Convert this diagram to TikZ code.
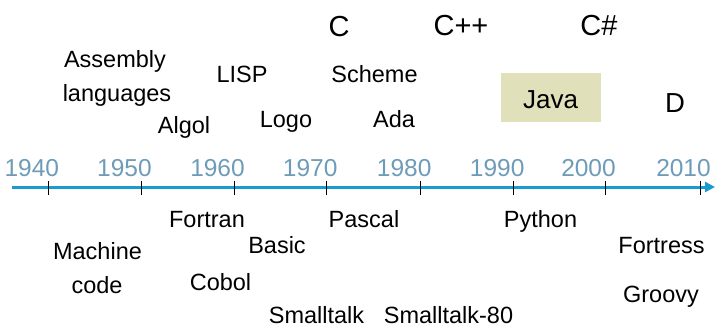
\documentclass[tikz,border=0pt]{standalone}
\usepackage{fontspec}
\setmainfont{Liberation Sans}
\usetikzlibrary{arrows.meta}
\definecolor{axisblue}{HTML}{1A9BD0}
\definecolor{yearblue}{HTML}{6E9CB8}
\definecolor{javafill}{HTML}{E0E1BB}
\tikzset{
  lang/.style={inner sep=0pt, anchor=base, font=\fontsize{23.5}{28}\selectfont},
  big/.style={inner sep=0pt, anchor=base, font=\fontsize{29}{34}\selectfont},
  year/.style={inner sep=0pt, anchor=base, text=yearblue, font=\fontsize{24.5}{29}\selectfont},
  axisline/.style={draw=axisblue, line width=3pt, -{Triangle[length=10pt,width=10pt]}},
  tickmark/.style={draw=black, line width=0.9pt},
  javabox/.style={fill=javafill, draw=none}
}
\begin{document}
\begin{tikzpicture}[x=1pt,y=-1pt]
\useasboundingbox (0,0) rectangle (715,329);
% axis
\coordinate (axL) at (12,187);
\coordinate (axR) at (715,187);
\draw[axisline] (axL) -- (axR);
% ticks and years
\foreach \yr/\tx in {1940/48.3,1950/141,1960/234,1970/326.7,1980/420.7,1990/513.7,2000/605,2010/700}{
  \coordinate (t\yr a) at (\tx,181);
  \coordinate (t\yr b) at (\tx,195);
  \draw[tickmark] (t\yr a) -- (t\yr b);
  \node[year] (y\yr) at (\tx-16.5,176) {\yr};
}
% above the axis
\node[lang] (asm1) at (115,68) {Assembly};
\node[lang] (asm2) at (117,102) {languages};
\node[lang] (algol) at (184,133) {Algol};
\node[lang] (lisp) at (242,83) {LISP};
\node[lang] (logo) at (286,127) {Logo};
\node[big] (c) at (339,37) {C};
\node[lang] (scheme) at (374.5,83) {Scheme};
\node[lang] (ada) at (394,128) {Ada};
\node[big] (cpp) at (461,36) {C++};
\node[big] (cs) at (599,36) {C\#};
\fill[javabox] (501,73) rectangle (601,122);
\node[inner sep=0pt, anchor=base, font=\fontsize{26}{31}\selectfont] (java) at (550.5,108) {Java};
\node[inner sep=0pt, anchor=base, font=\fontsize{27.5}{32}\selectfont] (d) at (675,112) {D};
% below the axis
\node[lang] (fortran) at (207,227) {Fortran};
\node[lang] (mc1) at (97.5,259) {Machine};
\node[lang] (mc2) at (97,293) {code};
\node[lang] (basic) at (277,253) {Basic};
\node[lang] (cobol) at (220.5,290) {Cobol};
\node[lang] (smalltalk) at (316.5,323) {Smalltalk};
\node[lang] (pascal) at (364,227) {Pascal};
\node[lang] (python) at (540.5,227) {Python};
\node[lang] (fortress) at (661.5,253) {Fortress};
\node[lang] (groovy) at (661,302) {Groovy};
\node[lang] (st80) at (448.5,323) {Smalltalk-80};
\end{tikzpicture}
\end{document}
